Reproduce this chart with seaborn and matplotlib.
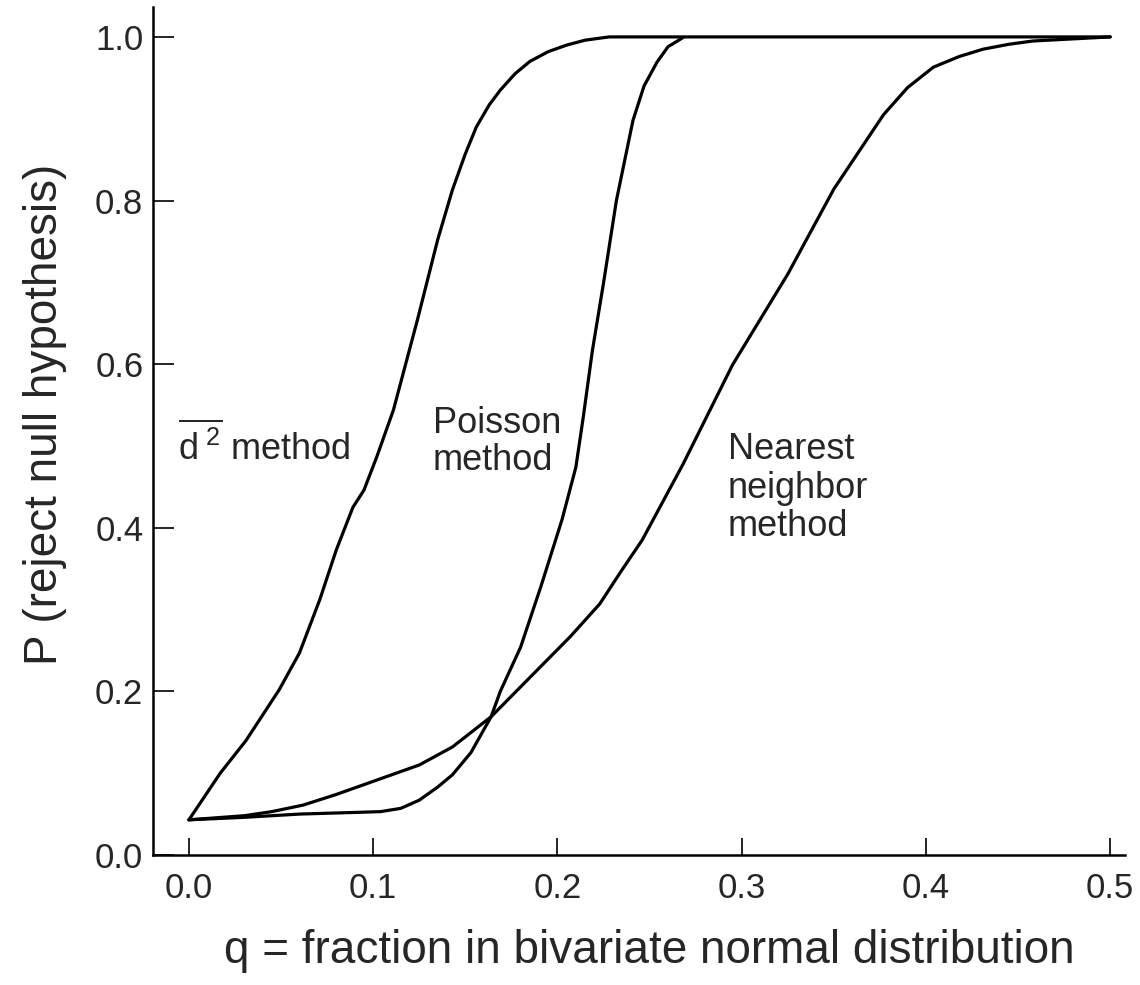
import numpy as np
import matplotlib
matplotlib.use("Agg")
import matplotlib.pyplot as plt
import pandas as pd
import seaborn as sns

# values
q_d2 = [0, 0.017, 0.031, 0.049, 0.060, 0.071, 0.080, 0.089, 0.095, 0.102, 0.111,
        0.124, 0.135, 0.143, 0.150, 0.156, 0.163, 0.169, 0.177, 0.185, 0.195, 0.205,
        0.215, 0.228, 0.5]
p_d2 = [0.043, 0.100, 0.140, 0.202, 0.247, 0.312, 0.373, 0.425, 0.446, 0.487, 0.544,
        0.654, 0.752, 0.813, 0.857, 0.890, 0.917, 0.935, 0.955, 0.970, 0.982, 0.990,
        0.996, 1.0, 1.0]

q_poisson = [0, 0.03, 0.06, 0.09, 0.104, 0.115, 0.125, 0.135, 0.143, 0.153, 0.164,
             0.169, 0.180, 0.191, 0.2025, 0.210, 0.214, 0.219, 0.225, 0.232, 0.241,
             0.247, 0.254, 0.260, 0.268]
p_poisson = [0.043, 0.046, 0.050, 0.052, 0.053, 0.057, 0.067, 0.083, 0.098, 0.125, 0.169,
             0.200, 0.254, 0.328, 0.410, 0.474, 0.535, 0.617, 0.699, 0.800, 0.898,
             0.940, 0.969, 0.988, 0.999]

q_nn = [0, 0.03, 0.045, 0.062, 0.080, 0.100, 0.125, 0.143, 0.164, 0.189, 0.207, 0.223,
        0.234, 0.246, 0.268, 0.295, 0.325, 0.350, 0.377, 0.390, 0.404, 0.418, 0.431,
        0.445, 0.458, 0.5]
p_nn = [0.043, 0.048, 0.053, 0.061, 0.074, 0.090, 0.110, 0.132, 0.169, 0.226, 0.267, 0.307,
        0.345, 0.385, 0.477, 0.599, 0.710, 0.814, 0.905, 0.938, 0.963, 0.976, 0.985,
        0.991, 0.995, 1.0]

x_ticks = [0.0, 0.1, 0.2, 0.3, 0.4, 0.5]
y_ticks = [0.0, 0.2, 0.4, 0.6, 0.8, 1.0]

sns.set_style("ticks")
plt.rcParams['font.family'] = ['Liberation Sans', 'DejaVu Sans']
plt.rcParams['mathtext.fontset'] = 'custom'
plt.rcParams['mathtext.rm'] = 'Liberation Sans'
plt.rcParams['mathtext.it'] = 'Liberation Sans'

frames = []
for name, q, p in [("d2", q_d2, p_d2), ("poisson", q_poisson, p_poisson), ("nn", q_nn, p_nn)]:
    frames.append(pd.DataFrame({"q": q, "P": p, "method": name}))
df = pd.concat(frames, ignore_index=True)

fig = plt.figure(figsize=(11.4, 9.85), dpi=100)
ax = fig.add_axes([0.1342, 0.132, 0.8526, 0.861])

sns.lineplot(data=df, x="q", y="P", units="method", estimator=None,
             color="black", linewidth=2.3, ax=ax, legend=False)

ax.set_xlim(-0.0195, 0.508)
ax.set_ylim(0, 1.0367)
ax.set_xticks(x_ticks)
ax.set_yticks(y_ticks)
ax.set_xticklabels([f"{v:.1f}" for v in x_ticks])
ax.set_yticklabels([f"{v:.1f}" for v in y_ticks])
ax.tick_params(axis="both", direction="in", labelsize=25, width=1.2, color="black")
ax.tick_params(axis="y", length=15, pad=7)
ax.tick_params(axis="x", length=12, pad=12)

sns.despine(ax=ax)
for s in ["left", "bottom"]:
    ax.spines[s].set_linewidth(1.8)
    ax.spines[s].set_color("black")

ax.set_xlabel("q = fraction in bivariate normal distribution", fontsize=33)
ax.set_ylabel("P (reject null hypothesis)", fontsize=33)
ax.xaxis.set_label_coords(0.511, -0.087)
ax.yaxis.set_label_coords(-0.088, 0.52)

ax.text(-0.006, 0.483, r"$\overline{\mathrm{d}^{\ 2}}$ method", fontsize=26, ha="left", va="baseline")
ax.text(0.1325, 0.470, "Poisson\nmethod", fontsize=26, ha="left", va="baseline", linespacing=1.1)
ax.text(0.2926, 0.390, "Nearest\nneighbor\nmethod", fontsize=26, ha="left", va="baseline", linespacing=1.12)

fig.savefig("out.png", dpi=100)
